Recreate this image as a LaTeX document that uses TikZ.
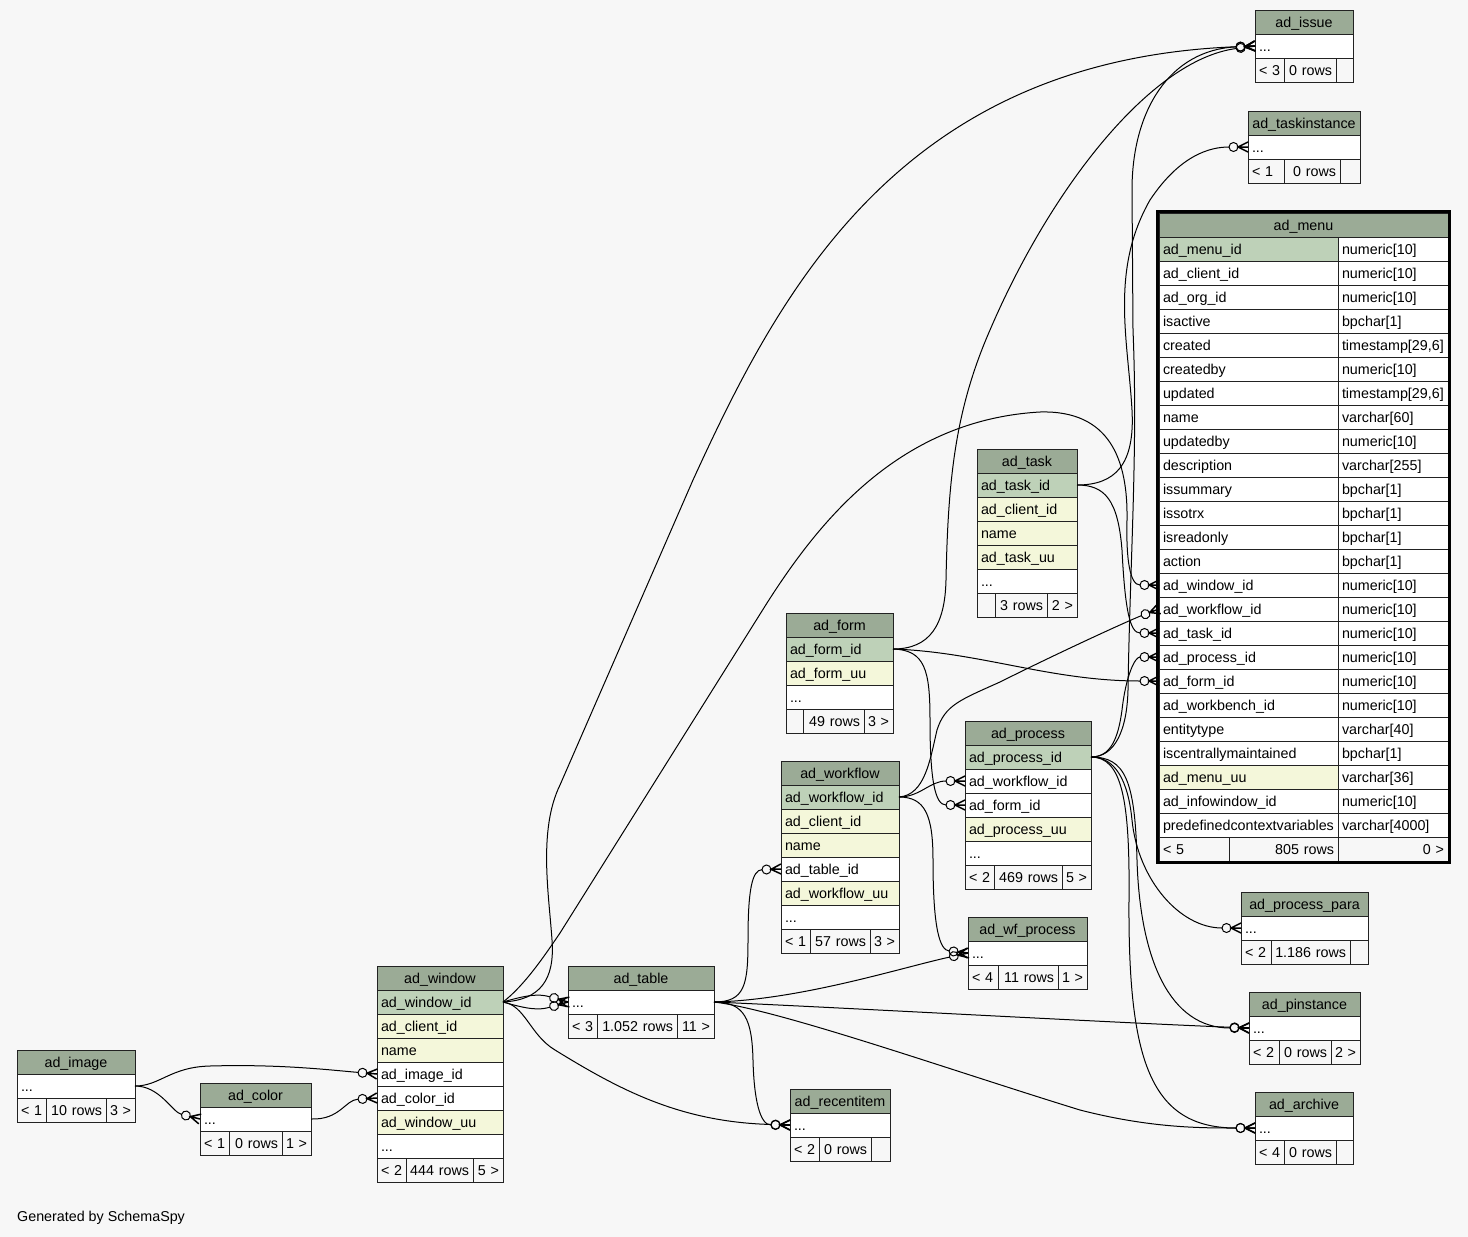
\documentclass[tikz,border=0pt]{standalone}
\usepackage{fontspec}
\setmainfont{Liberation Sans}
\usetikzlibrary{arrows.meta}
\hyphenpenalty=10000
\definecolor{bgc}{HTML}{F7F7F7}
\definecolor{headc}{HTML}{9BAB96}
\definecolor{pkc}{HTML}{BED1B8}
\definecolor{idxc}{HTML}{F4F7DA}
\definecolor{gridc}{HTML}{222222}
\newcommand\moredots{...}
% crow's foot with an open circle (zero or many)
\pgfdeclarearrow{
	name = crowodot,
	setup code = {
		\pgfarrowssettipend{0pt}
		\pgfarrowssetlineend{-19pt}
		\pgfarrowssetvisualbackend{-19pt}
		\pgfarrowssetbackend{-19pt}
		\pgfarrowshullpoint{0pt}{5pt}
		\pgfarrowshullpoint{0pt}{-5pt}
		\pgfarrowshullpoint{-19pt}{4.5pt}
		\pgfarrowshullpoint{-19pt}{-4.5pt}
	},
	drawing code = {
		\pgfsetdash{}{0pt}
		\pgfsetlinewidth{1.5pt}
		\pgfpathmoveto{\pgfpoint{0pt}{5pt}}
		\pgfpathlineto{\pgfpoint{-10pt}{0pt}}
		\pgfpathlineto{\pgfpoint{0pt}{-5pt}}
		\pgfpathmoveto{\pgfpoint{-10pt}{0pt}}
		\pgfpathlineto{\pgfpoint{0pt}{0pt}}
		\pgfusepathqstroke
		\pgfsetlinewidth{1pt}
		\pgfpathcircle{\pgfpoint{-14.5pt}{0pt}}{4.5pt}
		\pgfusepathqstroke
	}
}
\tikzset{
	cell/.style={draw=gridc, line width=1pt, fill=white, outer sep=0pt, inner xsep=4pt, inner ysep=0pt,
		minimum height=24pt, text height=12.5pt, text depth=2.5pt, align=left,
		font=\fontsize{14.3}{16}\selectfont},
	head/.style={fill=headc, align=center},
	foot/.style={fill=bgc},
	fk/.style={draw=black, line width=1pt, -{crowodot}},
}
% one cell: [style] name, left, right, top, text
\newcommand\dbcell[6][]{%
	\pgfmathsetmacro\tw{#4-#3-8}%
	\node[cell,#1,minimum width={#4-#3},text width=\tw pt,anchor=north west] (#2) at (#3,#5) {#6};}
% header and rows: key, left, right, top, title, rows
\newcommand\dbtable[6]{%
	\dbcell[head]{#1}{#2}{#3}{#4}{#5}
	\foreach \rowkey/\rowtext/\rowfill [count=\i] in {#6}
		{\dbcell[fill=\rowfill]{#1-\rowkey}{#2}{#3}{#4+24*\i}{\rowtext}}}
% footer: key, left, split, split, right, top, three texts
\newcommand\dbfoot[9]{%
	\dbcell[foot]{#1-f1}{#2}{#3}{#6}{\mbox{#7}}
	\dbcell[foot,align=right]{#1-f2}{#3}{#4}{#6}{\mbox{#8}}
	\dbcell[foot,align=right]{#1-f3}{#4}{#5}{#6}{\mbox{#9}}}

\begin{document}
\begin{tikzpicture}[x=1pt,y=-1pt]
	\fill[bgc] (0,0) rectangle (1468,1237);
	\useasboundingbox (0,0) rectangle (1468,1237);

	% The focus table
	\dbcell[head]{menu}{1159}{1448}{213}{ad\_menu}
	\foreach \rowkey/\rowtext/\rowtype/\rowfill [count=\i] in {
		id/ad\_menu\_id/numeric[10]/pkc, client/ad\_client\_id/numeric[10]/white,
		org/ad\_org\_id/numeric[10]/white, isactive/isactive/bpchar[1]/white,
		created/created/{timestamp[29,6]}/white, createdby/createdby/numeric[10]/white,
		updated/updated/{timestamp[29,6]}/white, name/name/varchar[60]/white,
		updatedby/updatedby/numeric[10]/white, description/description/varchar[255]/white,
		issummary/issummary/bpchar[1]/white, issotrx/issotrx/bpchar[1]/white,
		isreadonly/isreadonly/bpchar[1]/white, action/action/bpchar[1]/white,
		window/ad\_window\_id/numeric[10]/white, workflow/ad\_workflow\_id/numeric[10]/white,
		task/ad\_task\_id/numeric[10]/white, process/ad\_process\_id/numeric[10]/white,
		form/ad\_form\_id/numeric[10]/white, workbench/ad\_workbench\_id/numeric[10]/white,
		entitytype/entitytype/varchar[40]/white, central/iscentrallymaintained/bpchar[1]/white,
		uu/ad\_menu\_uu/varchar[36]/idxc, infowindow/ad\_infowindow\_id/numeric[10]/white,
		predef/predefinedcontextvariables/varchar[4000]/white}
	{
		\dbcell[fill=\rowfill]{menu-\rowkey}{1159}{1338}{213+24*\i}{\rowtext}
		\dbcell{menu-\rowkey-type}{1338}{1448}{213+24*\i}{\rowtype}
	}
	\dbfoot{menu}{1159}{1229}{1338}{1448}{837}{< 5}{805 rows}{0 >}
	\draw[line width=3pt] ([shift={(-1.5pt,1.5pt)}]menu.north west) rectangle ([shift={(1.5pt,-1.5pt)}]menu-f3.south east);

	% Tables with columns
	\dbtable{task}{977}{1077}{449}{ad\_task}{id/ad\_task\_id/pkc, client/ad\_client\_id/idxc, name/name/idxc, uu/ad\_task\_uu/idxc, more/\moredots/white}
	\dbfoot{task}{977}{995}{1047}{1077}{593}{}{3 rows}{2 >}
	\dbtable{form}{786}{893}{613}{ad\_form}{id/ad\_form\_id/pkc, uu/ad\_form\_uu/idxc, more/\moredots/white}
	\dbfoot{form}{786}{803}{864}{893}{709}{}{49 rows}{3 >}
	\dbtable{process}{965}{1091}{721}{ad\_process}{id/ad\_process\_id/pkc, workflow/ad\_workflow\_id/white, form/ad\_form\_id/white, uu/ad\_process\_uu/idxc, more/\moredots/white}
	\dbfoot{process}{965}{994}{1062}{1091}{865}{< 2}{469 rows}{5 >}
	\dbtable{workflow}{781}{899}{761}{ad\_workflow}{id/ad\_workflow\_id/pkc, client/ad\_client\_id/idxc, name/name/idxc, table/ad\_table\_id/white, uu/ad\_workflow\_uu/idxc, more/\moredots/white}
	\dbfoot{workflow}{781}{810}{870}{899}{929}{< 1}{57 rows}{3 >}
	\dbtable{window}{377}{503}{966}{ad\_window}{id/ad\_window\_id/pkc, client/ad\_client\_id/idxc, name/name/idxc, image/ad\_image\_id/white, color/ad\_color\_id/white, uu/ad\_window\_uu/idxc, more/\moredots/white}
	\dbfoot{window}{377}{406}{473}{503}{1158}{< 2}{444 rows}{5 >}

	% Collapsed tables
	\dbtable{issue}{1255}{1353}{10}{ad\_issue}{more/\moredots/white}
	\dbfoot{issue}{1255}{1284}{1336}{1353}{58}{< 3}{0 rows}{}
	\dbtable{taskinstance}{1248}{1360}{111}{ad\_taskinstance}{more/\moredots/white}
	\dbfoot{taskinstance}{1248}{1284}{1340}{1360}{159}{< 1}{0 rows}{}
	\dbtable{wfprocess}{968}{1087}{917}{ad\_wf\_process}{more/\moredots/white}
	\dbfoot{wfprocess}{968}{998}{1058}{1087}{965}{< 4}{11 rows}{1 >}
	\dbtable{processpara}{1241}{1368}{892}{ad\_process\_para}{more/\moredots/white}
	\dbfoot{processpara}{1241}{1271}{1350}{1368}{940}{< 2}{1.186 rows}{}
	\dbtable{pinstance}{1249}{1360}{992}{ad\_pinstance}{more/\moredots/white}
	\dbfoot{pinstance}{1249}{1279}{1331}{1360}{1040}{< 2}{0 rows}{2 >}
	\dbtable{archive}{1255}{1353}{1092}{ad\_archive}{more/\moredots/white}
	\dbfoot{archive}{1255}{1284}{1336}{1353}{1140}{< 4}{0 rows}{}
	\dbtable{recentitem}{790}{890}{1089}{ad\_recentitem}{more/\moredots/white}
	\dbfoot{recentitem}{790}{819}{871}{890}{1137}{< 2}{0 rows}{}
	\dbtable{table}{568}{714}{966}{ad\_table}{more/\moredots/white}
	\dbfoot{table}{568}{597}{677}{714}{1014}{< 3}{1.052 rows}{11 >}
	\dbtable{image}{17}{135}{1050}{ad\_image}{more/\moredots/white}
	\dbfoot{image}{17}{46}{106}{135}{1098}{< 1}{10 rows}{3 >}
	\dbtable{color}{200}{311}{1083}{ad\_color}{more/\moredots/white}
	\dbfoot{color}{200}{229}{282}{311}{1131}{< 1}{0 rows}{1 >}

	% Foreign keys, parent -> child
	\draw[fk] (image-more.east) .. controls (160,1086) and (170,1067) .. (210,1066) .. controls (280,1064) and (330,1070) .. (window-image.west);
	\draw[fk] (image-more.east) .. controls (160,1086) and (172,1112) .. (color-more.west);
	\draw[fk] (color-more.east) .. controls (340,1120) and (345,1100) .. (window-color.west);

	\draw[fk] (window-id.east) .. controls (530,994) and (540,994) .. (table-more.west);
	\draw[fk] (window-id.east) .. controls (530,1010) and (540,1010) .. (table-more.west);
	\draw[fk] (window-id.east) .. controls (540,1000) and (555,980) .. (552,940) .. controls (549,895) and (538,830) .. (560,785)
		-- (693,480) .. controls (780,290) and (900,60) .. (issue-more.west);
	\draw[fk] (window-id.east) .. controls (525,985) and (545,955) .. (560,933) -- (767,603) .. controls (820,520) and (900,420) .. (1040,412)
		.. controls (1110,410) and (1128,460) .. (1127,520) .. controls (1126,560) and (1130,585) .. (menu-window.west);
	\draw[fk] (window-id.east) .. controls (525,1005) and (530,1035) .. (555,1050) .. controls (620,1090) and (680,1122) .. (recentitem-more.west);

	\draw[fk] (table-more.east) .. controls (745,1002) and (748,985) .. (748,940) .. controls (748,890) and (752,870) .. (workflow-table.west);
	\draw[fk] (table-more.east) .. controls (800,1000) and (900,968) .. (wfprocess-more.west);
	\draw[fk] (table-more.east) .. controls (850,1008) and (1100,1022) .. (pinstance-more.west);
	\draw[fk] (table-more.east) .. controls (780,1010) and (950,1070) .. (1080,1110) .. controls (1150,1128) and (1200,1128) .. (archive-more.west);
	\draw[fk] (table-more.east) .. controls (745,1002) and (752,1020) .. (753,1060) .. controls (754,1100) and (760,1125) .. (recentitem-more.west);

	\draw[fk] (form-id.east) .. controls (930,649) and (945,625) .. (946,580) .. controls (948,480) and (955,410) .. (990,330)
		.. controls (1050,190) and (1150,60) .. (issue-more.west);
	\draw[fk] (form-id.east) .. controls (980,652) and (1050,681) .. (menu-form.west);
	\draw[fk] (form-id.east) .. controls (925,650) and (930,670) .. (930,720) .. controls (930,780) and (935,805) .. (process-form.west);

	\draw[fk] (task-id.east) .. controls (1115,485) and (1135,465) .. (1132,410) .. controls (1128,340) and (1110,270) .. (1150,200)
		.. controls (1180,155) and (1210,147) .. (taskinstance-more.west);
	\draw[fk] (task-id.east) .. controls (1105,485) and (1118,500) .. (1122,550) .. controls (1125,610) and (1130,633) .. (menu-task.west);

	\draw[fk] (workflow-id.east) .. controls (920,797) and (930,781) .. (process-workflow.west);
	\draw[fk] (workflow-id.east) .. controls (925,795) and (930,760) .. (937,730) .. controls (945,705) and (960,700) .. (1000,682)
		.. controls (1060,652) and (1130,620) .. (menu-workflow.west);
	\draw[fk] (workflow-id.east) .. controls (925,797) and (933,815) .. (933,860) .. controls (933,930) and (940,950) .. (wfprocess-more.west);

	\draw[fk] (process-id.east) .. controls (1110,757) and (1118,740) .. (1122,710) .. controls (1126,675) and (1135,657) .. (menu-process.west);
	\draw[fk] (process-id.east) .. controls (1115,757) and (1128,780) .. (1132,820) .. controls (1138,880) and (1180,928) .. (processpara-more.west);
	\draw[fk] (process-id.east) .. controls (1125,757) and (1135,780) .. (1137,860) .. controls (1140,960) and (1170,1028) .. (pinstance-more.west);
	\draw[fk] (process-id.east) .. controls (1122,757) and (1130,800) .. (1129,900) .. controls (1128,1060) and (1150,1128) .. (archive-more.west);
	\draw[fk] (process-id.east) .. controls (1115,757) and (1127,730) .. (1128,690) .. controls (1130,560) and (1138,450) .. (1133,330)
		-- (1132,190) .. controls (1132,110) and (1170,50) .. (issue-more.west);

	\node[anchor=base west, inner sep=0pt, font=\fontsize{14.3}{16}\selectfont] (credit) at (17,1221) {Generated by SchemaSpy};
\end{tikzpicture}
\end{document}
